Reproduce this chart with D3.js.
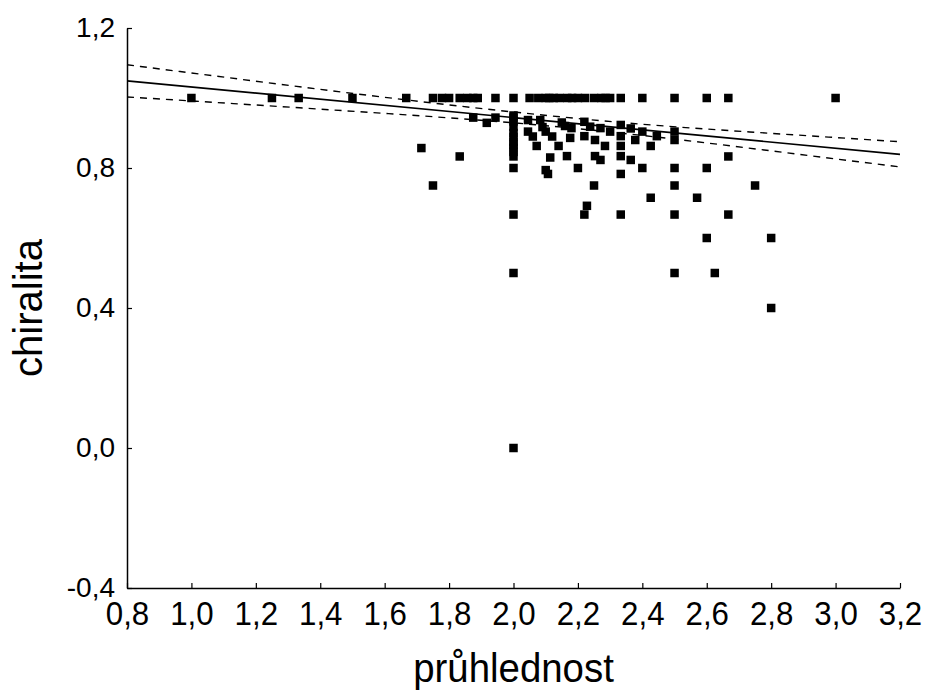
<!DOCTYPE html>
<html>
<head>
<meta charset="utf-8">
<script src="https://cdn.jsdelivr.net/npm/d3@7"></script>
<style>
  body { margin: 0; background: #fff; }
  text { font-family: "Liberation Sans", Arial, sans-serif; fill: #000; }
</style>
</head>
<body>
<div id="chart"></div>
<script>
var svgWidth = 927;
var svgHeight = 691;

// data
var pointX = [1.0, 1.25, 1.333, 1.5, 1.667, 1.75, 1.778, 1.8, 1.833, 1.857, 1.875, 1.889, 1.944, 2.0,
  2.05, 2.077, 2.1, 2.111, 2.125, 2.143, 2.167, 2.182, 2.2, 2.222, 2.25, 2.273, 2.286, 2.3, 2.333,
  2.4, 2.5, 2.6, 2.667, 3.0,
  1.714, 1.75, 1.833, 1.875, 1.917, 1.944,
  2.0, 2.0, 2.0, 2.0, 2.0, 2.0, 2.0, 2.0, 2.0, 2.0, 2.0, 2.0, 2.0, 2.0, 2.0,
  2.045, 2.045, 2.06, 2.072, 2.083, 2.09, 2.1, 2.12, 2.14, 2.114, 2.1, 2.107,
  2.15, 2.16, 2.18, 2.176, 2.166, 2.2, 2.22, 2.238, 2.22, 2.253, 2.284, 2.253, 2.27, 2.25,
  2.228, 2.22, 2.27, 2.3, 2.333, 2.333, 2.333, 2.333, 2.333, 2.333, 2.364, 2.378, 2.364,
  2.4, 2.426, 2.4, 2.426, 2.445, 2.5, 2.5, 2.5, 2.5, 2.5, 2.5, 2.57, 2.6, 2.6, 2.625,
  2.667, 2.667, 2.75, 2.8, 2.8];
var pointY = [1, 1, 1, 1, 1, 1, 1, 1, 1, 1, 1, 1, 1, 1,
  1, 1, 1, 1, 1, 1, 1, 1, 1, 1, 1, 1, 1, 1, 1,
  1, 1, 1, 1, 1,
  0.857, 0.75, 0.833, 0.944, 0.929, 0.944,
  0.95, 0.933, 0.917, 0.9, 0.889, 0.875, 0.867, 0.857, 0.846, 0.833, 0.8, 0.667, 0.5, 0.0, 0.944,
  0.937, 0.904, 0.89, 0.863, 0.937, 0.917, 0.904, 0.89, 0.863, 0.83, 0.794, 0.783,
  0.93, 0.92, 0.914, 0.886, 0.834, 0.8, 0.932, 0.918, 0.891, 0.88, 0.863, 0.834, 0.823, 0.75,
  0.692, 0.667, 0.914, 0.904, 0.923, 0.891, 0.863, 0.834, 0.783, 0.667, 0.913, 0.88, 0.823,
  0.904, 0.863, 0.8, 0.715, 0.891, 0.904, 0.88, 0.8, 0.75, 0.667, 0.5, 0.715, 0.8, 0.6, 0.5,
  0.833, 0.667, 0.75, 0.6, 0.4];

// regression line and 95% band, read at a few x positions
var fitX = [0.8, 3.2];
var fitY = [1.049, 0.839];
var bandX = [0.8, 1.2, 1.6, 2.0, 2.4, 2.8, 3.2];
var bandUpper = [1.095, 1.048, 1.002, 0.960, 0.925, 0.899, 0.875];
var bandLower = [1.003, 0.980, 0.956, 0.929, 0.893, 0.849, 0.803];

var xTicks = [0.8, 1.0, 1.2, 1.4, 1.6, 1.8, 2.0, 2.2, 2.4, 2.6, 2.8, 3.0, 3.2];
var yTicks = [-0.4, 0.0, 0.4, 0.8, 1.2];

var mLeft = 127, mRight = 900, mTop = 28, mBottom = 588;

var svg = d3.select("#chart")
  .append("svg")
  .attr("width", svgWidth)
  .attr("height", svgHeight);

var x = d3.scaleLinear().domain([0.8, 3.2]).range([mLeft, mRight]);
var y = d3.scaleLinear().domain([-0.4, 1.2]).range([mBottom, mTop]);

var fmt = function(d) { return d3.format(".1f")(d).replace(".", ",").replace("−", "-"); };

// axes, ticks pointing inward
var xAxis = svg.append("g")
  .attr("transform", "translate(0," + mBottom + ")")
  .call(d3.axisBottom(x).tickValues(xTicks).tickSizeInner(-5).tickSizeOuter(0).tickPadding(12).tickFormat(fmt));
var yAxis = svg.append("g")
  .attr("transform", "translate(" + mLeft + ",0)")
  .call(d3.axisLeft(y).tickValues(yTicks).tickSizeInner(-5).tickSizeOuter(0).tickPadding(12).tickFormat(fmt));

svg.selectAll(".domain").attr("stroke", "#000").attr("stroke-width", 1.5);
svg.selectAll(".tick line").attr("stroke", "#000").attr("stroke-width", 1.2);
// x labels look a little condensed
xAxis.selectAll("text")
  .attr("font-size", 34)
  .attr("dy", null)
  .attr("y", 37)
  .attr("transform", "scale(0.92,1)");
yAxis.selectAll("text").attr("font-size", 28);

// band and fit lines
var line = d3.line().curve(d3.curveNatural);
svg.append("path")
  .attr("d", line(bandX.map(function(d, i) { return [x(d), y(bandUpper[i])]; })))
  .attr("fill", "none").attr("stroke", "#000").attr("stroke-width", 1.4)
  .attr("stroke-dasharray", "7,6");
svg.append("path")
  .attr("d", line(bandX.map(function(d, i) { return [x(d), y(bandLower[i])]; })))
  .attr("fill", "none").attr("stroke", "#000").attr("stroke-width", 1.4)
  .attr("stroke-dasharray", "7,6");
svg.append("path")
  .attr("d", d3.line()(fitX.map(function(d, i) { return [x(d), y(fitY[i])]; })))
  .attr("fill", "none").attr("stroke", "#000").attr("stroke-width", 1.6);

// points
var size = 8.5;
svg.selectAll("rect.pt")
  .data(pointX)
  .enter()
  .append("rect")
  .attr("class", "pt")
  .attr("x", function(d) { return x(d) - size / 2; })
  .attr("y", function(d, i) { return y(pointY[i]) - size / 2; })
  .attr("width", size)
  .attr("height", size)
  .attr("fill", "#000");

// axis titles
svg.append("text")
  .attr("transform", "translate(" + ((mLeft + mRight) / 2) + ",682) scale(0.96,1)")
  .attr("text-anchor", "middle")
  .attr("font-size", 40)
  .text("průhlednost");
svg.append("text")
  .attr("transform", "translate(42," + ((mTop + mBottom) / 2) + ") rotate(-90)")
  .attr("text-anchor", "middle")
  .attr("font-size", 40)
  .text("chiralita");
</script>
</body>
</html>
